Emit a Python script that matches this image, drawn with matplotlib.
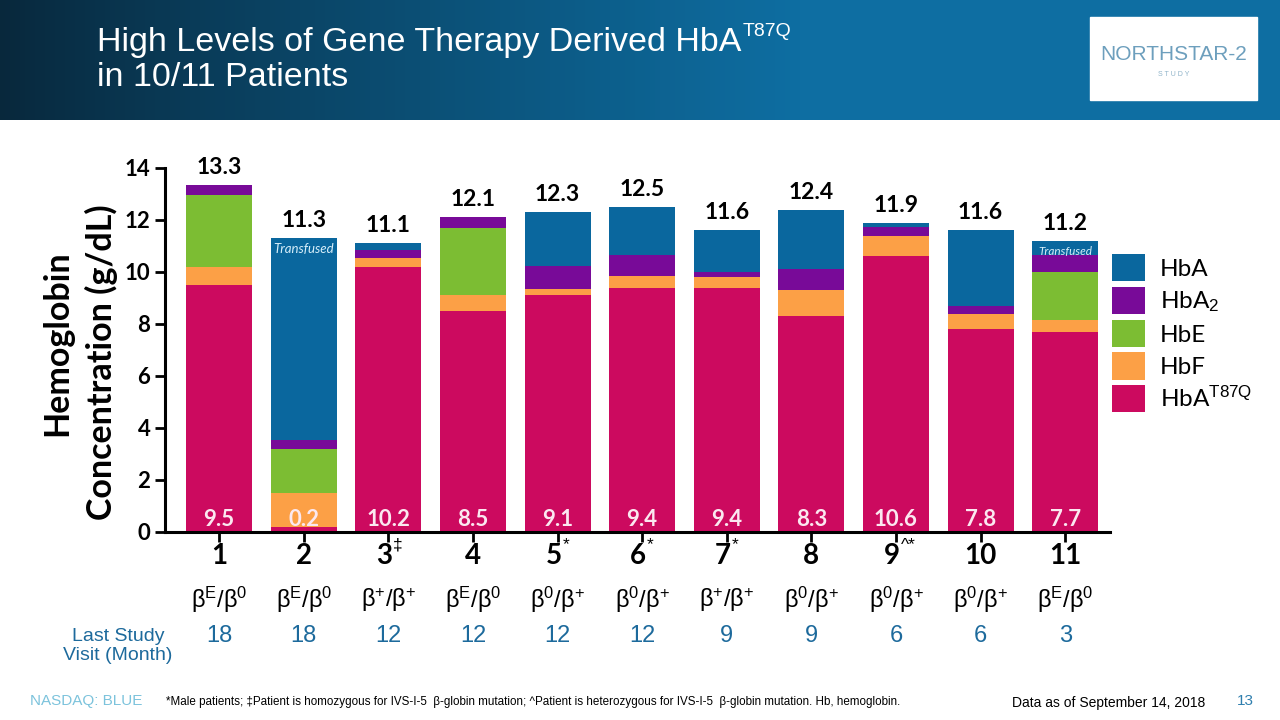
import numpy as np
import matplotlib.pyplot as plt
from matplotlib.patches import Patch, Rectangle
from matplotlib.transforms import blended_transform_factory, offset_copy

plt.rcParams['font.family'] = ['Lato', 'DejaVu Sans']
plt.rcParams['mathtext.fontset'] = 'custom'
plt.rcParams['mathtext.rm'] = 'Liberation Sans'
plt.rcParams['mathtext.it'] = 'Liberation Sans:italic'

# %% data
patients  = ["1", "2", "3", "4", "5", "6", "7", "8", "9", "10", "11"]
marks     = ["", "", "\u2021", "", "*", "*", "*", "", "^*", "", ""]
genotypes = ["E/0", "E/0", "+/+", "E/0", "0/+", "0/+", "+/+", "0/+", "0/+", "0/+", "E/0"]
last_visit = [18, 18, 12, 12, 12, 12, 9, 9, 6, 6, 3]

hb_t87q = [9.5, 0.2, 10.2, 8.5, 9.1, 9.4, 9.4, 8.3, 10.6, 7.8, 7.7]
hb_f    = [0.7, 1.3, 0.35, 0.6, 0.23, 0.45, 0.4, 1.0, 0.77, 0.6, 0.45]
hb_e    = [2.76, 1.7, 0, 2.6, 0, 0, 0, 0, 0, 0, 1.85]
hb_a2   = [0.37, 0.35, 0.3, 0.4, 0.9, 0.8, 0.2, 0.8, 0.37, 0.3, 0.65]
hb_a    = [0, 7.75, 0.25, 0, 2.07, 1.85, 1.6, 2.3, 0.16, 2.9, 0.55]
totals  = [13.3, 11.3, 11.1, 12.1, 12.3, 12.5, 11.6, 12.4, 11.9, 11.6, 11.2]
transfused = [2, 11]

layers = [("HbA$^{\\mathrm{T87Q}}$", hb_t87q, "#cc0a5f"),
          ("HbF", hb_f, "#fca046"),
          ("HbE", hb_e, "#7cbd33"),
          ("HbA$_{\\mathrm{2}}$", hb_a2, "#780a98"),
          ("HbA", hb_a, "#0a679e")]

# %% figure + header band
fig = plt.figure(figsize=(12.8, 7.2), dpi=100)
hdr = fig.add_axes([0, 1 - 120 / 720, 1, 120 / 720])
grad = np.linspace(0, 1, 256)
c0, c1 = np.array([8, 40, 60]) / 255, np.array([14, 110, 162]) / 255
g = np.clip(grad * 1.6, 0, 1) ** 0.9
img = (c0[None, :] * (1 - g[:, None]) + c1[None, :] * g[:, None])[None, :, :]
hdr.imshow(img, aspect="auto", extent=[0, 1, 0, 1])
hdr.set_xlim(0, 1); hdr.set_ylim(0, 1)
hdr.axis("off")
hdr.add_patch(Rectangle((1090 / 1280, 20 / 120), 167 / 1280, 83 / 120, color="white"))
hdr.text(1174 / 1280, 65 / 120, "NORTHSTAR-2", color="#6d9fbd", fontsize=15,
         family="Liberation Sans", ha="center", va="center")
hdr.text(1174 / 1280, 46 / 120, "S T U D Y", color="#8fb3c9", fontsize=5,
         family="Liberation Sans", ha="center", va="center")

t1 = fig.text(97 / 1280, 1 - 42 / 720, "High Levels of Gene Therapy Derived HbA",
              color="white", fontsize=24.5, family="Liberation Sans", va="center")
fig.text(97 / 1280, 1 - 77 / 720, "in 10/11 Patients",
         color="white", fontsize=24.5, family="Liberation Sans", va="center")
bb = t1.get_window_extent(renderer=fig.canvas.get_renderer())
fig.text(bb.x1 / 1280 + 1 / 1280, 1 - 31 / 720, "T87Q", color="white", fontsize=14,
         family="Liberation Sans", va="center")

# %% stacked bars
ax = fig.add_axes([165 / 1280, 1 - 532 / 720, 945 / 1280, 364 / 720])
x = np.arange(1, len(patients) + 1)
bottom = np.zeros(len(x))
handles = []
for name, vals, col in layers:
    ax.bar(x, vals, bottom=bottom, width=0.78, color=col, edgecolor="none")
    bottom += np.array(vals)
    handles.append(Patch(facecolor=col, label=name))

for xi, tot, top, base in zip(x, totals, bottom, hb_t87q):
    ax.annotate(f"{tot:.1f}", (xi, top), xytext=(0, 5), textcoords="offset points",
                ha="center", va="bottom", fontsize=16.5, fontweight="bold", color="black")
    ax.text(xi, 0.22, f"{base:.1f}", ha="center", va="baseline", fontsize=16,
            fontweight="bold", color="#fbe8f0")
for p in transfused:
    ax.text(p, totals[p - 1] - 0.4, "Transfused", ha="center", va="center",
            fontsize=9.5 if p == 2 else 8.5, style="italic", color="#d6eefa")

ax.set_xlim(0.36, 11.53)
ax.set_ylim(0, 14)
ax.set_yticks(range(0, 15, 2))
ax.set_xticks(x)
ax.set_xticklabels([])
ax.tick_params(axis="y", labelsize=16, width=2, length=7)
ax.tick_params(axis="x", width=2, length=7)
for lbl in ax.get_yticklabels():
    lbl.set_fontweight("bold")
for s in ["top", "right"]:
    ax.spines[s].set_visible(False)
for s in ["left", "bottom"]:
    ax.spines[s].set_linewidth(2.2)

fig.text(57 / 1280, 1 - 343 / 720, "Hemoglobin", rotation=90, fontsize=24.5,
         fontweight="bold", ha="center", va="center")
fig.text(101 / 1280, 1 - 362 / 720, "Concentration (g/dL)", rotation=90, fontsize=24.5,
         fontweight="bold", ha="center", va="center")

ax.legend(handles=handles[::-1], loc="upper left", bbox_to_anchor=(0.992, 0.79),
          frameon=False, fontsize=17.5, handlelength=1.35, handleheight=1.35,
          labelspacing=0.22, handletextpad=0.6, borderaxespad=0.0)

# %% category labels under the axis
tr = blended_transform_factory(ax.transData, fig.transFigure)
for xi, num, mk, gt, lv in zip(x, patients, marks, genotypes, last_visit):
    shift = -3 if mk else 0
    ax.text(xi, 1 - 556 / 720, num, ha="center", va="center", fontsize=20,
            fontweight="bold", transform=offset_copy(tr, fig, x=shift, units="points"))
    if mk:
        ax.text(xi, 1 - 545 / 720, mk, ha="left", va="center", fontsize=12.5,
                family="Liberation Sans",
                transform=offset_copy(tr, fig, x=shift + 6.5, units="points"))
    a, b = gt.split("/")
    ax.text(xi, 1 - 600 / 720, f"\u03b2$^{{\\mathrm{{{a}}}}}$/\u03b2$^{{\\mathrm{{{b}}}}}$",
            transform=tr, ha="center", va="center", fontsize=17, family="Liberation Sans")
    ax.text(xi, 1 - 636 / 720, str(lv), transform=tr, ha="center", va="center",
            fontsize=17, family="Liberation Sans", color="#1d6a9c")

fig.text(118 / 1280, 1 - 646 / 720, "Last Study\nVisit (Month)", ha="center", va="center",
         fontsize=14, family="Liberation Sans", color="#1d6a9c", linespacing=1.15)

# %% footer
fig.text(30 / 1280, 1 - 701 / 720, "NASDAQ: BLUE", fontsize=11, color="#7cc3dc",
         family="Liberation Sans", va="center")
fig.text(166 / 1280, 1 - 702 / 720,
         "*Male patients; \u2021Patient is homozygous for IVS-I-5  \u03b2-globin mutation; "
         "^Patient is heterozygous for IVS-I-5  \u03b2-globin mutation. Hb, hemoglobin.",
         fontsize=8.4, family="Liberation Sans", va="center")
fig.text(1012 / 1280, 1 - 703 / 720, "Data as of September 14, 2018", fontsize=10,
         family="Liberation Sans", va="center")
fig.text(1245 / 1280, 1 - 701 / 720, "13", fontsize=11, color="#2f7fae",
         family="Liberation Sans", va="center", ha="center")

fig.savefig("out.png", dpi=100)
